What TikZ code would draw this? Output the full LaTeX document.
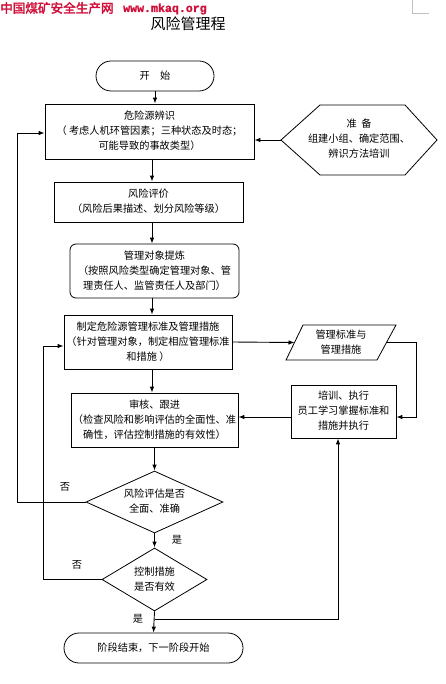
\documentclass[tikz,border=0pt]{standalone}
\usepackage{fontspec}
\newfontfamily\cjk{Noto Sans CJK SC}
\newfontfamily\cjkb[FakeBold=2.5]{Noto Sans CJK SC}
\newfontfamily\monob[FakeBold=1.5]{Liberation Mono}
\usetikzlibrary{arrows.meta,shapes.geometric,shapes.misc}
\definecolor{hdrred}{RGB}{208,16,58}
\newcommand\mlines[1]{\begin{tabular}{@{}c@{}}#1\end{tabular}}
\tikzset{
  txt/.style={font=\cjk\fontsize{10.2}{15}\selectfont, inner sep=0pt},
  box/.style={txt, draw, line width=0.8pt, rectangle},
  rbox/.style={box, rounded corners=6pt},
  stad/.style={txt, draw, line width=0.8pt, rounded rectangle},
  dia/.style={txt, draw, line width=0.8pt, diamond},
  conn/.style={line width=0.9pt},
  arr/.style={conn, -{Latex[length=6pt,width=4.5pt]}},
  lbl/.style={font=\cjk\fontsize{10.2}{12}\selectfont, inner sep=0pt}
}
\begin{document}
\begin{tikzpicture}[x=1pt,y=-1pt]
\useasboundingbox (0,0) rectangle (446,684);
% header
\node[anchor=west, inner sep=0pt, text=hdrred, font=\cjkb\fontsize{12.6}{14}\selectfont] (hdr) at (0,8) {中国煤矿安全生产网};
\node[anchor=west, inner sep=0pt, text=hdrred, font=\monob\bfseries\fontsize{11.6}{14}\selectfont] (url) at (123,9) {www.mkaq.org};
\draw[gray!50, line width=0.5pt] (412,0) -- (412,13) -- (429,13);
\node[inner sep=0pt, font=\cjk\fontsize{15}{18}\selectfont] (title) at (188,24) {风险管理程};
% nodes
\node[stad, minimum width=118pt, minimum height=30pt] (start) at (155,76) {开\quad 始};
\node[box, minimum width=209pt, minimum height=55pt] (box1) at (149.5,131.5) {\mlines{危险源辨识\\（ 考虑人机环管因素；三种状态及时态；\\可能导致的事故类型）}};
\node[box, minimum width=189pt, minimum height=40pt] (box2) at (148.5,202) {\mlines{风险评价\\（风险后果描述、划分风险等级）}};
\node[rbox, minimum width=169pt, minimum height=54pt] (box3) at (154.5,271) {\mlines{管理对象提炼\\（按照风险类型确定管理对象、管\\理责任人、监管责任人及部门）}};
\node[box, minimum width=168pt, minimum height=54pt] (box4) at (148,342) {\mlines{制定危险源管理标准及管理措施\\（针对管理对象，制定相应管理标准\\和措施 ）}};
\node[box, minimum width=105pt, minimum height=53pt] (box5) at (343.5,411.5) {\mlines{培训、执行\\员工学习掌握标准和\\措施并执行}};
\node[box, minimum width=167pt, minimum height=54pt] (box6) at (154.5,420) {\mlines{审核、跟进\\（检查风险和影响评估的全面性、准\\确性，评估控制措施的有效性）}};
\node[dia, minimum width=137pt, minimum height=62pt, aspect=2.2] (dia1) at (154.5,502) {\mlines{风险评估是否\\全面、准确}};
\node[dia, minimum width=105pt, minimum height=63pt, aspect=1.67] (dia2) at (154.5,579.5) {\mlines{控制措施\\是否有效}};
\node[stad, minimum width=179pt, minimum height=30pt] (end) at (153.5,648) {阶段结束，下一阶段开始};
% hexagon
\draw[line width=0.8pt] (281,140) -- (320,105) -- (405,105) -- (437,140) -- (405,175) -- (320,175) -- cycle;
\node[txt] (hex) at (359,140) {\mlines{准\ \ 备\\组建小组、确定范围、\\辨识方法培训}};
\coordinate (hexL) at (281,140);
% parallelogram
\draw[line width=0.8pt] (303,325) -- (396,325) -- (377,360) -- (286,360) -- cycle;
\node[txt] (para) at (341,342.5) {\mlines{管理标准与\\管理措施}};
\coordinate (paraL) at (294.5,342.5);
\coordinate (paraR) at (386.5,342.5);
% guide coordinates
\coordinate (L1) at (17,0);
\coordinate (L2) at (43,0);
\coordinate (R) at (416,0);
\coordinate (M) at (152,0);
\coordinate (J) at (154.5,619);
% connectors
\draw[arr] (start.south) -- (start.south |- box1.north);
\draw[arr] (box1.south -| M) -- (box2.north -| M);
\draw[arr] (box2.south -| M) -- (box3.north -| M);
\draw[arr] (box3.south -| M) -- (box4.north -| M);
\draw[arr] (box4.south -| M) -- (box6.north -| M);
\draw[arr] (box6.south -| dia1.north) -- (dia1.north);
\draw[arr] (dia1.south) -- (dia2.north);
\draw[arr] (dia2.south) -- (end.north);
\draw[arr] (hexL) -- (hexL -| box1.east);
\draw[arr] (dia1.west) -- (dia1.west -| L1) |- ([yshift=-1.5pt]box1.west);
\draw[arr] (dia2.west) -- (dia2.west -| L2) |- ([yshift=-4pt]box4.west);
\draw[arr] (box4.east) -- (paraL);
\draw[arr] (paraR) -- (paraR -| R) |- ([yshift=-5.5pt]box5.east);
\draw[arr] ([yshift=-5.5pt]box5.west) -- ([yshift=-5.5pt]box5.west -| box6.east);
\draw[arr] (J) -| ([xshift=-5.5pt]box5.south);
% labels
\node[lbl] (no1) at (65,487) {否};
\node[lbl] (no2) at (77,565) {否};
\node[lbl] (yes1) at (177,540) {是};
\node[lbl] (yes2) at (138,619) {是};
\end{tikzpicture}
\end{document}
